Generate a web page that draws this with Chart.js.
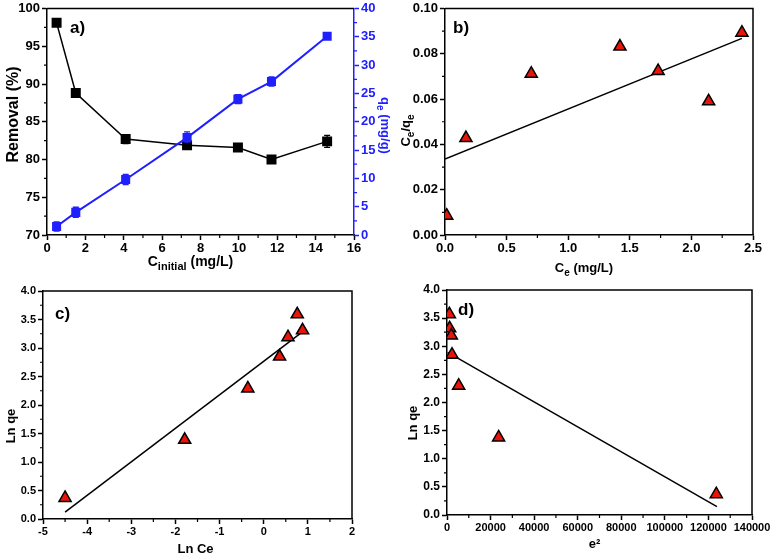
<!DOCTYPE html>
<html>
<head>
<meta charset="utf-8">
<script src="https://cdn.jsdelivr.net/npm/chart.js@4.4.1/dist/chart.umd.min.js"></script>
<style>
  html, body { margin: 0; padding: 0; background: #fff; }
  #wrap { position: relative; width: 774px; height: 557px; }
  #wrap canvas { position: absolute; left: 0; top: 0; }
</style>
</head>
<body>
<div id="wrap">
  <canvas id="chart-a" width="774" height="557"></canvas>
  <canvas id="chart-b" width="774" height="557"></canvas>
  <canvas id="chart-c" width="774" height="557"></canvas>
  <canvas id="chart-d" width="774" height="557"></canvas>
</div>
<script>
// a) removal (%) and qe vs initial concentration
const cInitial = [0.5, 1.5, 4.1, 7.3, 9.95, 11.7, 14.6];
const removal = [98.1, 88.8, 82.7, 81.9, 81.6, 80.0, 82.4];
const removalErr = [0.4, 0.2, 0.6, 0.2, 0.2, 0.2, 0.8];
const qe = [1.5, 4.0, 9.8, 17.2, 24.0, 27.1, 35.1];
const qeErr = [0.8, 0.9, 0.9, 1.0, 0.8, 0.8, 0.3];

// b) Langmuir
const ce = [0.014, 0.17, 0.70, 1.42, 1.73, 2.14, 2.41];
const ceQe = [0.0085, 0.0428, 0.0712, 0.0832, 0.0724, 0.059, 0.0893];
const fitB_x = [0, 2.41];
const fitB_y = [0.0335, 0.0868];

// c) Freundlich
const lnCe = [-4.5, -1.79, -0.36, 0.36, 0.55, 0.76, 0.88];
const lnQe = [0.37, 1.39, 2.29, 2.85, 3.19, 3.59, 3.31];
const fitC_x = [-4.5, 0.84];
const fitC_y = [0.12, 3.26];

// d) D-R
const eps2 = [1070, 1220, 1990, 2300, 5355, 23700, 123600];
const lnQeD = [3.57, 3.32, 3.19, 2.85, 2.30, 1.38, 0.37];
const fitD_x = [300, 123900];
const fitD_y = [2.89, 0.15];

const fontFamily = '"Liberation Sans", Arial, sans-serif';
const BLUE = '#2020ff';
const RED = '#e8150b';

function pts(xs, ys) {
  return xs.map((x, i) => ({ x: x, y: ys[i] }));
}

function axis(min, max, step, digits, size, color) {
  color = color || '#000';
  return {
    type: 'linear', min: min, max: max,
    ticks: {
      stepSize: step, autoSkip: false, maxRotation: 0, padding: 2, color: color,
      font: { family: fontFamily, weight: 'bold', size: size || 12, lineHeight: 1 },
      callback: v => Number(v).toFixed(digits)
    },
    grid: { drawOnChartArea: false, drawTicks: true, tickLength: 5, tickWidth: 1.5, tickColor: color },
    border: { display: true, color: color, width: 1.5 },
    title: { display: false }
  };
}

// rich text: parts = [[text, 'sub'|'sup'|''], ...]
function drawRich(ctx, parts, size, color, align) {
  const small = Math.round(size * 0.75);
  const fontOf = k => 'bold ' + (k ? small : size) + 'px ' + fontFamily;
  let w = 0;
  parts.forEach(p => { ctx.font = fontOf(p[1]); w += ctx.measureText(p[0]).width; });
  let x = align === 'left' ? 0 : -w / 2;
  ctx.fillStyle = color;
  ctx.textBaseline = 'alphabetic';
  parts.forEach(p => {
    ctx.font = fontOf(p[1]);
    let y = size * 0.36;
    if (p[1] === 'sub') y += size * 0.3;
    if (p[1] === 'sup') y -= size * 0.4;
    ctx.fillText(p[0], x, y);
    x += ctx.measureText(p[0]).width;
  });
}

function annotate(items) {
  return {
    id: 'annotate',
    afterDraw(chart) {
      const a = chart.chartArea, ctx = chart.ctx;
      const ref = { left: a.left, right: a.right, top: a.top, bottom: a.bottom,
        cx: (a.left + a.right) / 2, cy: (a.top + a.bottom) / 2 };
      items.forEach(it => {
        ctx.save();
        ctx.translate(ref[it.x[0]] + it.x[1], ref[it.y[0]] + it.y[1]);
        if (it.rotate) ctx.rotate(it.rotate * Math.PI / 180);
        drawRich(ctx, it.parts, it.size || 13, it.color || '#000', it.align);
        ctx.restore();
      });
    }
  };
}

// minor ticks halfway between the labelled ones
function minorTicks(ids) {
  return {
    id: 'minorTicks',
    afterDraw(chart) {
      const ctx = chart.ctx;
      ids.forEach(id => {
        const s = chart.scales[id];
        const step = s.options.ticks.stepSize / 2;
        const n = Math.round((s.max - s.min) / step);
        ctx.save();
        ctx.strokeStyle = s.options.border.color;
        ctx.lineWidth = 1.2;
        ctx.beginPath();
        for (let i = 1; i < n; i += 2) {
          const p = s.getPixelForValue(s.min + i * step);
          if (s.isHorizontal()) { ctx.moveTo(p, s.top); ctx.lineTo(p, s.top + 3); }
          else if (s.position === 'left') { ctx.moveTo(s.right, p); ctx.lineTo(s.right - 3, p); }
          else { ctx.moveTo(s.left, p); ctx.lineTo(s.left + 3, p); }
        }
        ctx.stroke();
        ctx.restore();
      });
    }
  };
}

function frame(withRight) {
  return {
    id: 'frame',
    beforeDatasetsDraw(chart) {
      const a = chart.chartArea, ctx = chart.ctx;
      ctx.save();
      ctx.strokeStyle = '#000';
      ctx.lineWidth = 1.5;
      ctx.beginPath();
      ctx.moveTo(a.left, a.top);
      ctx.lineTo(a.right, a.top);
      if (withRight) ctx.lineTo(a.right, a.bottom);
      ctx.stroke();
      ctx.restore();
    }
  };
}

const errorBars = {
  id: 'errorBars',
  afterDatasetsDraw(chart) {
    const ctx = chart.ctx;
    chart.data.datasets.forEach((ds, i) => {
      if (!ds.errors) return;
      const xs = chart.scales.x, ys = chart.scales[ds.yAxisID || 'y'];
      ctx.save();
      ctx.strokeStyle = ds.borderColor;
      ctx.lineWidth = 1.3;
      ds.data.forEach((p, j) => {
        const e = ds.errors[j];
        const px = xs.getPixelForValue(p.x);
        const top = ys.getPixelForValue(p.y + e), bot = ys.getPixelForValue(p.y - e);
        ctx.beginPath();
        ctx.moveTo(px, top); ctx.lineTo(px, bot);
        ctx.moveTo(px - 3, top); ctx.lineTo(px + 3, top);
        ctx.moveTo(px - 3, bot); ctx.lineTo(px + 3, bot);
        ctx.stroke();
      });
      ctx.restore();
    });
  }
};

// area = plot box in page pixels
function baseOptions(area, scales, rightWidth) {
  scales.x.afterFit = s => { s.height = 557 - area.b; };
  scales.y.afterFit = s => { s.width = area.l; };
  if (scales.y1) scales.y1.afterFit = s => { s.width = rightWidth; };
  return {
    responsive: false,
    animation: false,
    events: [],
    layout: { padding: { left: 0, top: area.t, right: 774 - area.r - (rightWidth || 0), bottom: 0 } },
    plugins: { legend: { display: false }, tooltip: { enabled: false } },
    scales: scales
  };
}

function triangles(xs, ys) {
  return {
    data: pts(xs, ys), pointStyle: 'triangle', pointRadius: 7,
    backgroundColor: RED, borderColor: '#000', borderWidth: 1.5
  };
}

function fitLine(xs, ys) {
  return {
    data: pts(xs, ys), showLine: true, pointRadius: 0,
    borderColor: '#000', borderWidth: 1.5
  };
}

// ---- a)
const scalesA = {
  x: axis(0, 16, 2, 0, 13),
  y: axis(70, 100, 5, 0, 13),
  y1: axis(0, 40, 5, 0, 13, BLUE)
};
scalesA.y1.position = 'right';
new Chart(document.getElementById('chart-a'), {
  type: 'scatter',
  data: {
    datasets: [
      { data: pts(cInitial, qe), errors: qeErr, yAxisID: 'y1', showLine: true,
        borderColor: BLUE, backgroundColor: BLUE, borderWidth: 2, pointStyle: 'rect', pointRadius: 5 },
      { data: pts(cInitial, removal), errors: removalErr, yAxisID: 'y', showLine: true,
        borderColor: '#000', backgroundColor: '#000', borderWidth: 1.5, pointStyle: 'rect', pointRadius: 6 }
    ]
  },
  options: baseOptions({ l: 47, t: 7, r: 354, b: 235 }, scalesA, 33),
  plugins: [frame(false), errorBars, minorTicks(['x', 'y', 'y1']), annotate([
    { parts: [['Removal (%)', '']], x: ['left', -35], y: ['top', 106], rotate: -90, size: 16 },
    { parts: [['q', ''], ['e', 'sub'], [' (mg/g)', '']], x: ['right', 32], y: ['top', 117], rotate: 90, size: 13, color: BLUE },
    { parts: [['C', ''], ['initial', 'sub'], [' (mg/L)', '']], x: ['cx', -10], y: ['bottom', 26], size: 14 },
    { parts: [['a)', '']], x: ['left', 23], y: ['top', 18], size: 17, align: 'left' }
  ])]
});

// ---- b)
new Chart(document.getElementById('chart-b'), {
  type: 'scatter',
  data: { datasets: [triangles(ce, ceQe), fitLine(fitB_x, fitB_y)] },
  options: baseOptions({ l: 445, t: 7, r: 753, b: 235 }, {
    x: axis(0, 2.5, 0.5, 1, 13),
    y: axis(0, 0.1, 0.02, 2, 13)
  }),
  plugins: [frame(true), minorTicks(['x', 'y']), annotate([
    { parts: [['C', ''], ['e', 'sub'], ['/q', ''], ['e', 'sub']], x: ['left', -40], y: ['top', 122], rotate: -90, size: 13 },
    { parts: [['C', ''], ['e', 'sub'], [' (mg/L)', '']], x: ['cx', -15], y: ['bottom', 32], size: 13 },
    { parts: [['b)', '']], x: ['left', 8], y: ['top', 18], size: 17, align: 'left' }
  ])]
});

// ---- c)
new Chart(document.getElementById('chart-c'), {
  type: 'scatter',
  data: { datasets: [triangles(lnCe, lnQe), fitLine(fitC_x, fitC_y)] },
  options: baseOptions({ l: 43, t: 291, r: 352, b: 519 }, {
    x: axis(-5, 2, 1, 0, 11),
    y: axis(0, 4, 0.5, 1, 11)
  }),
  plugins: [frame(true), minorTicks(['x', 'y']), annotate([
    { parts: [['Ln qe', '']], x: ['left', -33], y: ['top', 135], rotate: -90, size: 13 },
    { parts: [['Ln Ce', '']], x: ['cx', -2], y: ['bottom', 29], size: 13 },
    { parts: [['c)', '']], x: ['left', 12], y: ['top', 22], size: 17, align: 'left' }
  ])]
});

// ---- d)
new Chart(document.getElementById('chart-d'), {
  type: 'scatter',
  data: { datasets: [triangles(eps2, lnQeD), fitLine(fitD_x, fitD_y)] },
  options: baseOptions({ l: 447, t: 290, r: 752, b: 515 }, {
    x: axis(0, 140000, 20000, 0, 11),
    y: axis(0, 4, 0.5, 1, 12)
  }),
  plugins: [frame(true), minorTicks(['x', 'y']), annotate([
    { parts: [['Ln qe', '']], x: ['left', -35], y: ['top', 133], rotate: -90, size: 13 },
    { parts: [['e²', '']], x: ['cx', -5], y: ['bottom', 28], size: 13 },
    { parts: [['d)', '']], x: ['left', 11], y: ['top', 19], size: 17, align: 'left' }
  ])]
});
</script>
</body>
</html>
